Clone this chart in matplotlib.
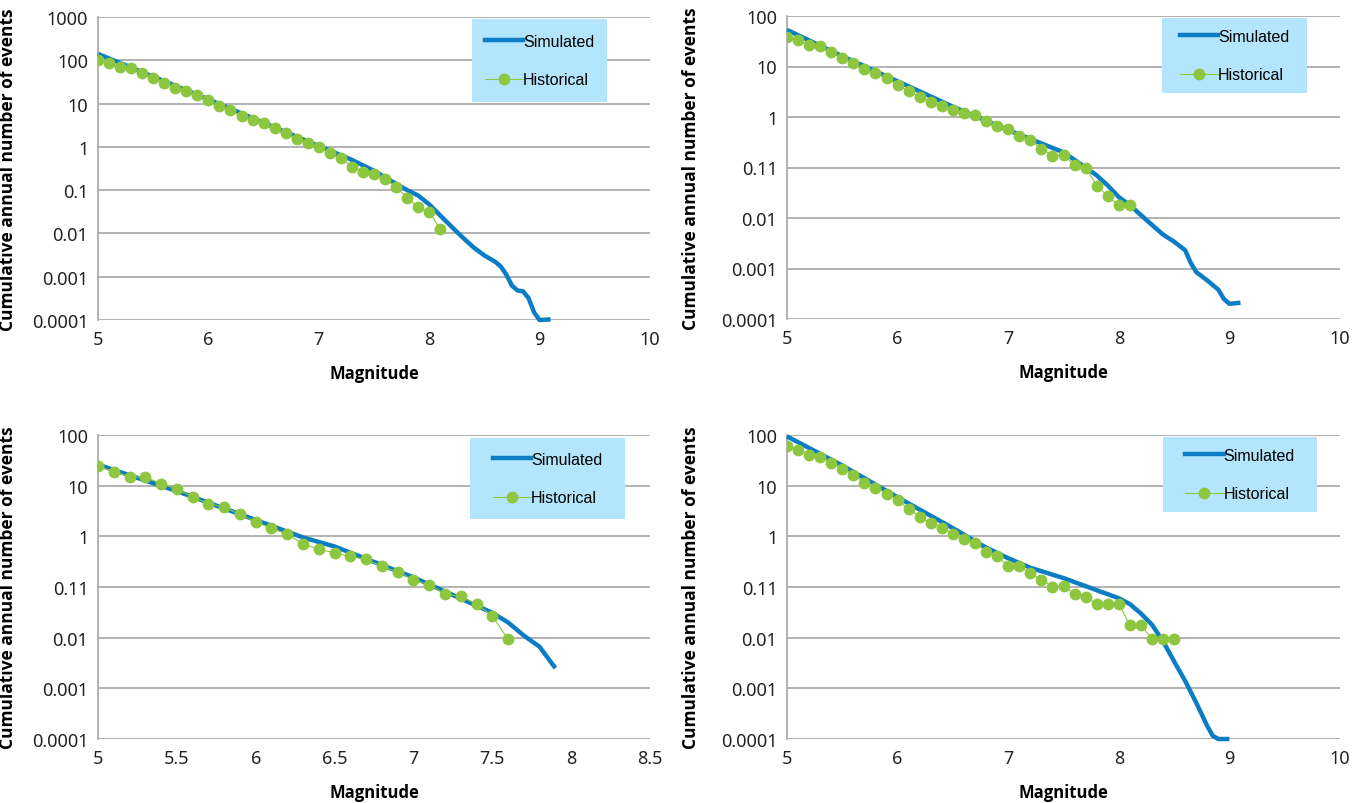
import matplotlib.pyplot as plt
from matplotlib.patches import Rectangle
from matplotlib.lines import Line2D

# Panel 1 (top left)
hist_x1 = [5.0, 5.1, 5.2, 5.3, 5.4, 5.5, 5.6, 5.7, 5.8, 5.9, 6.0, 6.1, 6.2, 6.3, 6.4, 6.5,
           6.6, 6.7, 6.8, 6.9, 7.0, 7.1, 7.2, 7.3, 7.4, 7.5, 7.6, 7.7, 7.8, 7.9, 8.0, 8.1]
hist_y1 = [103, 85, 69, 66, 52, 40, 30, 23, 20, 15.4, 11.9, 8.9, 7.0, 5.1, 4.2, 3.5,
           2.8, 2.05, 1.49, 1.2, 0.98, 0.71, 0.54, 0.35, 0.26, 0.235, 0.18, 0.118, 0.067, 0.040, 0.032, 0.0125]
sim_x1 = [5.0, 5.5, 6.0, 6.5, 7.0, 7.3, 7.5, 7.7, 7.8, 7.9, 8.0, 8.1, 8.2, 8.3, 8.4, 8.5, 8.6, 8.65, 8.7,
          8.75, 8.8, 8.85, 8.9, 8.95, 9.0, 9.1]
sim_y1 = [140, 42, 12.5, 3.6, 1.05, 0.5, 0.28, 0.14, 0.1, 0.075, 0.047, 0.026, 0.0145, 0.0082, 0.0048,
          0.0031, 0.0022, 0.0017, 0.0011, 0.00062, 0.00048, 0.00046, 0.00032, 0.00015, 0.0001, 0.000103]

# Panel 2 (top right)
hist_x2 = [5.0, 5.1, 5.2, 5.3, 5.4, 5.5, 5.6, 5.7, 5.8, 5.9, 6.0, 6.1, 6.2, 6.3, 6.4, 6.5,
           6.6, 6.7, 6.8, 6.9, 7.0, 7.1, 7.2, 7.3, 7.4, 7.5, 7.6, 7.7, 7.8, 7.9, 8.0, 8.1]
hist_y2 = [39, 33, 27, 25, 19.3, 15, 11.6, 8.8, 7.4, 5.8, 4.4, 3.2, 2.5, 1.95, 1.65, 1.4,
           1.22, 1.1, 0.84, 0.66, 0.58, 0.43, 0.35, 0.234, 0.17, 0.18, 0.11, 0.099, 0.044, 0.027, 0.018, 0.018]
sim_x2 = [5.0, 5.5, 6.0, 6.5, 7.0, 7.5, 7.7, 7.8, 7.9, 8.0, 8.1, 8.2, 8.3, 8.4, 8.5, 8.6, 8.65, 8.7,
          8.8, 8.9, 8.95, 9.0, 9.1]
sim_y2 = [53, 16, 5.1, 1.6, 0.55, 0.2, 0.1, 0.07, 0.044, 0.026, 0.018, 0.0114, 0.0073, 0.0047, 0.0034,
          0.0023, 0.0013, 0.00085, 0.00058, 0.00038, 0.00025, 0.0002, 0.00021]

# Panel 3 (bottom left)
hist_x3 = [5.0, 5.1, 5.2, 5.3, 5.4, 5.5, 5.6, 5.7, 5.8, 5.9, 6.0, 6.1, 6.2, 6.3,
           6.4, 6.5, 6.6, 6.7, 6.8, 6.9, 7.0, 7.1, 7.2, 7.3, 7.4, 7.5, 7.6]
hist_y3 = [24, 19, 15, 14.7, 11, 8.6, 6.0, 4.4, 3.8, 2.7, 1.95, 1.43, 1.1, 0.71,
           0.56, 0.47, 0.40, 0.35, 0.255, 0.2, 0.138, 0.11, 0.073, 0.065, 0.046, 0.027, 0.0093]
sim_x3 = [5.0, 5.5, 6.0, 6.3, 6.5, 7.0, 7.5, 7.6, 7.7, 7.8, 7.9]
sim_y3 = [26, 7.8, 2.1, 0.95, 0.63, 0.155, 0.031, 0.020, 0.011, 0.0066, 0.0025]

# Panel 4 (bottom right)
hist_x4 = [5.0, 5.1, 5.2, 5.3, 5.4, 5.5, 5.6, 5.7, 5.8, 5.9, 6.0, 6.1, 6.2, 6.3, 6.4, 6.5, 6.6, 6.7,
           6.8, 6.9, 7.0, 7.1, 7.2, 7.3, 7.4, 7.5, 7.6, 7.7, 7.8, 7.9, 8.0, 8.1, 8.2, 8.3, 8.4, 8.5]
hist_y4 = [62, 50, 40, 37, 28.6, 21.8, 16.4, 11.4, 9.2, 7.0, 5.2, 3.5, 2.45, 1.8, 1.45, 1.12, 0.89, 0.74,
           0.5, 0.4, 0.26, 0.255, 0.185, 0.14, 0.101, 0.104, 0.074, 0.064, 0.046, 0.046, 0.046, 0.018, 0.018,
           0.0093, 0.0093, 0.0093]
sim_x4 = [5.0, 5.5, 6.0, 6.5, 6.8, 7.0, 7.2, 7.5, 8.0, 8.1, 8.2, 8.3, 8.4, 8.5, 8.6, 8.7, 8.8, 8.85, 8.9, 9.0]
sim_y4 = [94, 25, 5.9, 1.45, 0.6, 0.37, 0.24, 0.15, 0.06, 0.046, 0.03, 0.018, 0.0085, 0.0034, 0.0014,
          0.00052, 0.00018, 0.000115, 0.0001, 0.0001]

ytick_vals_1 = [0.0001, 0.001, 0.01, 0.1, 1, 10, 100, 1000]
ytick_labels_1 = ['0.0001', '0.001', '0.01', '0.1', '1', '10', '100', '1000']
ytick_vals = [0.0001, 0.001, 0.01, 0.1, 1, 10, 100]
ytick_labels = ['0.0001', '0.001', '0.01', '0.11', '1', '10', '100']
xticks_a = [5, 6, 7, 8, 9, 10]
xticks_b = [5, 5.5, 6, 6.5, 7, 7.5, 8, 8.5]

SIM_COLOR = '#0b7dc5'
HIST_COLOR = '#8dc63f'
LEG_BG = '#b3e6fc'
GRID = '#a6a6a6'

W, H = 1364, 804
fig = plt.figure(figsize=(W / 100, H / 100), dpi=100)


def px_axes(l, t, r, b):
    return fig.add_axes([l / W, 1 - b / H, (r - l) / W, (b - t) / H])


panels = [
    dict(box=(98, 18, 650, 321), hx=hist_x1, hy=hist_y1, sx=sim_x1, sy=sim_y1,
         yt=ytick_vals_1, yl=ytick_labels_1, ylim=(1e-4, 1e3), xt=xticks_a,
         leg=(472, 20, 607, 103), ylab_x=17),
    dict(box=(787, 17, 1340, 320), hx=hist_x2, hy=hist_y2, sx=sim_x2, sy=sim_y2,
         yt=ytick_vals, yl=ytick_labels, ylim=(1e-4, 1e2), xt=xticks_a,
         leg=(1162, 19, 1307, 94), ylab_x=700),
    dict(box=(98, 436, 650, 740), hx=hist_x3, hy=hist_y3, sx=sim_x3, sy=sim_y3,
         yt=ytick_vals, yl=ytick_labels, ylim=(1e-4, 1e2), xt=xticks_b,
         leg=(470, 439, 625, 520), ylab_x=17),
    dict(box=(787, 436, 1340, 740), hx=hist_x4, hy=hist_y4, sx=sim_x4, sy=sim_y4,
         yt=ytick_vals, yl=ytick_labels, ylim=(1e-4, 1e2), xt=xticks_a,
         leg=(1163, 438, 1317, 513), ylab_x=700),
]

for p in panels:
    l, t, r, b = p['box']
    ax = px_axes(l, t, r, b)
    ax.set_yscale('log')
    ax.set_ylim(*p['ylim'])
    ax.set_xlim(p['xt'][0], p['xt'][-1])
    ax.plot(p['sx'], p['sy'], color=SIM_COLOR, lw=3.2, solid_capstyle='butt', solid_joinstyle='round',
            zorder=3, clip_on=False)
    ax.plot(p['hx'], p['hy'], color=HIST_COLOR, lw=0.8, marker='o', ms=7.5, mec=HIST_COLOR, zorder=4)
    ax.set_yticks(p['yt'])
    ax.set_yticklabels(p['yl'])
    ax.minorticks_off()
    ax.set_xticks(p['xt'])
    ax.set_xticklabels([('%g' % v) for v in p['xt']])
    ax.tick_params(length=0, labelsize=13, colors='#222222', pad=7)
    for lab in ax.get_xticklabels() + ax.get_yticklabels():
        lab.set_family('Noto Sans')
    ax.grid(axis='y', color=GRID, lw=1.2)
    ax.set_axisbelow(True)
    for s in ['top', 'right', 'bottom']:
        ax.spines[s].set_visible(False)
    ax.spines['left'].set_color(GRID)
    ax.spines['left'].set_linewidth(1.2)
    ax.set_xlabel('Magnitude', fontsize=12, fontweight='bold', family='Open Sans', labelpad=12)
    ax.set_ylabel('Cumulative annual number of events', fontsize=12.5, fontweight='bold', family='Open Sans')
    ax.yaxis.set_label_coords((p['ylab_x'] - l) / (r - l), 0.5)

    # legend box
    ll, lt, lr, lb = p['leg']
    ax.add_patch(Rectangle(((ll - l) / (r - l), (b - lb) / (b - t)), (lr - ll) / (r - l), (lb - lt) / (b - t),
                           transform=ax.transAxes, facecolor=LEG_BG, edgecolor='none', zorder=5, clip_on=False))
    handles = [Line2D([], [], color=SIM_COLOR, lw=3.2),
               Line2D([], [], color=HIST_COLOR, lw=0.8, marker='o', ms=7.5)]
    leg = ax.legend(handles, ['Simulated', 'Historical'], loc='center',
                    bbox_to_anchor=(((ll + lr) / 2 - l) / (r - l), (b - (lt + lb) / 2) / (b - t)),
                    frameon=False, prop={'family': 'Liberation Sans', 'size': 11.5},
                    handlelength=2.4, handletextpad=0.0, labelspacing=1.5)
    leg.set_zorder(6)

fig.savefig('out.png', dpi=100)
